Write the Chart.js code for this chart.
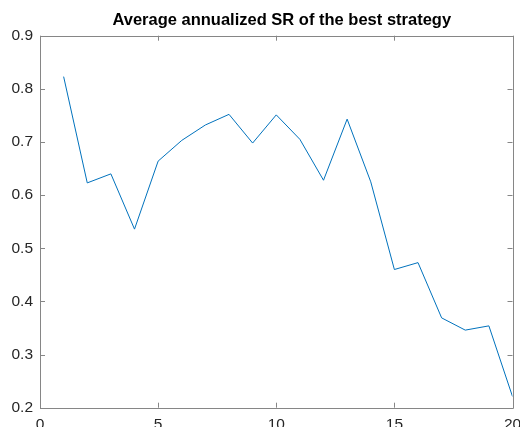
<!DOCTYPE html>
<html>
<head>
<meta charset="utf-8">
<script src="https://cdn.jsdelivr.net/npm/chart.js@4/dist/chart.umd.min.js"></script>
<style>
html,body{margin:0;padding:0;background:#fff;}
#wrap{width:520px;height:427px;position:relative;}
</style>
</head>
<body>
<div id="wrap"><canvas id="c" width="520" height="427"></canvas></div>
<script>
const chartTitle = "Average annualized SR of the best strategy";
const xValues = [1,2,3,4,5,6,7,8,9,10,11,12,13,14,15,16,17,18,19,20];
const srValues = [0.823,0.623,0.640,0.536,0.664,0.703,0.732,0.752,0.698,0.751,0.705,0.628,0.743,0.625,0.460,0.473,0.369,0.346,0.354,0.221];
const xTicks = [0,5,10,15,20];
const yTicks = [0.2,0.3,0.4,0.5,0.6,0.7,0.8,0.9];

const FONT = "'Liberation Sans', Arial, Helvetica, sans-serif";
const AXIS = "#868686";
const TXT = "#262626";

const boxTicks = {
  id: 'boxTicks',
  afterLayout(chart) {
    const t = chart.titleBlock;
    if (t) {
      const a = chart.chartArea;
      t.left = a.left + 11;
      t.right = a.right;
    }
  },
  afterDraw(chart) {
    const {ctx, chartArea: a, scales: {x, y}} = chart;
    ctx.save();
    ctx.strokeStyle = AXIS;
    ctx.lineWidth = 1;
    ctx.beginPath();
    ctx.rect(Math.round(a.left) + 0.5, Math.round(a.top) + 0.5, Math.round(a.right - a.left), Math.round(a.bottom - a.top));
    const L = 5;
    xTicks.forEach(v => {
      const px = Math.round(x.getPixelForValue(v)) + 0.5;
      ctx.moveTo(px, a.bottom); ctx.lineTo(px, a.bottom - L);
      ctx.moveTo(px, a.top); ctx.lineTo(px, a.top + L);
    });
    yTicks.forEach(v => {
      const py = Math.round(y.getPixelForValue(v)) + 0.5;
      ctx.moveTo(a.left, py); ctx.lineTo(a.left + L, py);
      ctx.moveTo(a.right, py); ctx.lineTo(a.right - L, py);
    });
    ctx.stroke();
    ctx.restore();
  }
};

new Chart(document.getElementById('c'), {
  type: 'line',
  data: {
    datasets: [{
      data: xValues.map((xv, i) => ({x: xv, y: srValues[i]})),
      borderColor: '#0072BD',
      borderWidth: 1,
      pointRadius: 0,
      tension: 0,
      fill: false
    }]
  },
  options: {
    responsive: false,
    animation: false,
    devicePixelRatio: 1,
    layout: {padding: {left: 0, right: 7.5, top: 0, bottom: 0}},
    plugins: {
      legend: {display: false},
      tooltip: {enabled: false},
      title: {
        display: true,
        text: chartTitle,
        color: '#000',
        font: {family: FONT, size: 16.5, weight: 'bold'},
        padding: {top: 11, bottom: 4.9}
      }
    },
    scales: {
      x: {
        type: 'linear',
        min: 0, max: 20,
        grid: {display: false, drawTicks: false},
        border: {display: false},
        afterBuildTicks: s => { s.ticks = xTicks.map(v => ({value: v})); },
        ticks: {color: TXT, font: {family: FONT, size: 15.5}, padding: 8, maxRotation: 0, autoSkip: false},
        afterFit: s => { s.height = 19.3; s.paddingLeft = 0; s.paddingRight = 0; }
      },
      y: {
        type: 'linear',
        min: 0.2, max: 0.9,
        grid: {display: false, drawTicks: false},
        border: {display: false},
        afterBuildTicks: s => { s.ticks = yTicks.map(v => ({value: v})); },
        ticks: {color: TXT, font: {family: FONT, size: 15.5}, padding: 7, callback: v => Number(v).toFixed(1), autoSkip: false},
        afterFit: s => { s.width = 40; s.paddingTop = 0; s.paddingBottom = 0; }
      }
    }
  },
  plugins: [boxTicks]
});
</script>
</body>
</html>
